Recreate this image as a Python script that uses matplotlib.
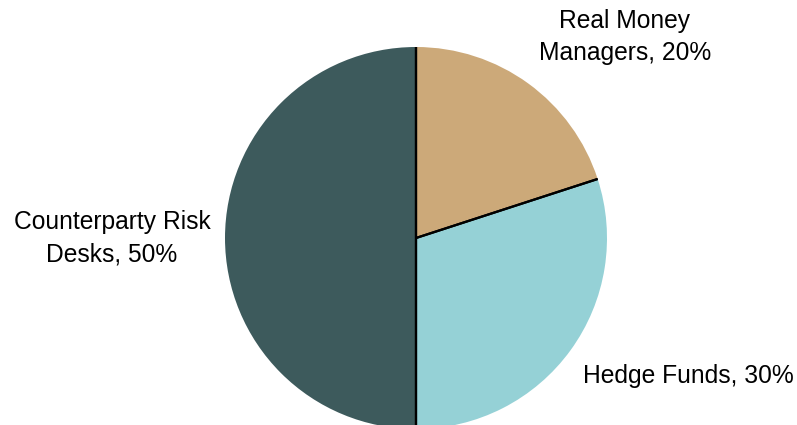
import matplotlib
matplotlib.use("Agg")
import matplotlib.pyplot as plt
import numpy as np

labels = ["Real Money\nManagers, 20%", "Hedge Funds, 30%", "Counterparty Risk\nDesks, 50%"]
shares = [20, 30, 50]
colors = ["#CCA979", "#95D1D6", "#3D5A5C"]

plt.rcParams["font.family"] = ["Liberation Sans", "DejaVu Sans"]

W, H = 797, 425
fig = plt.figure(figsize=(W / 100, H / 100), dpi=100)
ax = fig.add_axes([0, 0, 1, 1])

cx, cy, r = 416, H - 238, 191
wedges, _ = ax.pie(shares, colors=colors, startangle=90, counterclock=False,
                   center=(cx, cy), radius=r, frame=True,
                   wedgeprops=dict(linewidth=0))
ax.set_xlim(0, W)
ax.set_ylim(0, H)
ax.set_aspect("equal")
ax.axis("off")

# black radial borders between slices
for w in wedges:
    for ang in (w.theta1, w.theta2):
        a = np.deg2rad(ang)
        ax.plot([cx, cx + r * np.cos(a)], [cy, cy + r * np.sin(a)],
                color="black", lw=1.6, solid_capstyle="butt")

label_pos = [(625, H - 37, "center"), (688, H - 376, "center"), (112, H - 238, "center")]
for lab, (x, y, ha) in zip(labels, label_pos):
    ax.text(x, y, lab, ha=ha, va="center", fontsize=17.7, linespacing=1.45)

fig.savefig("out.png", dpi=100)
